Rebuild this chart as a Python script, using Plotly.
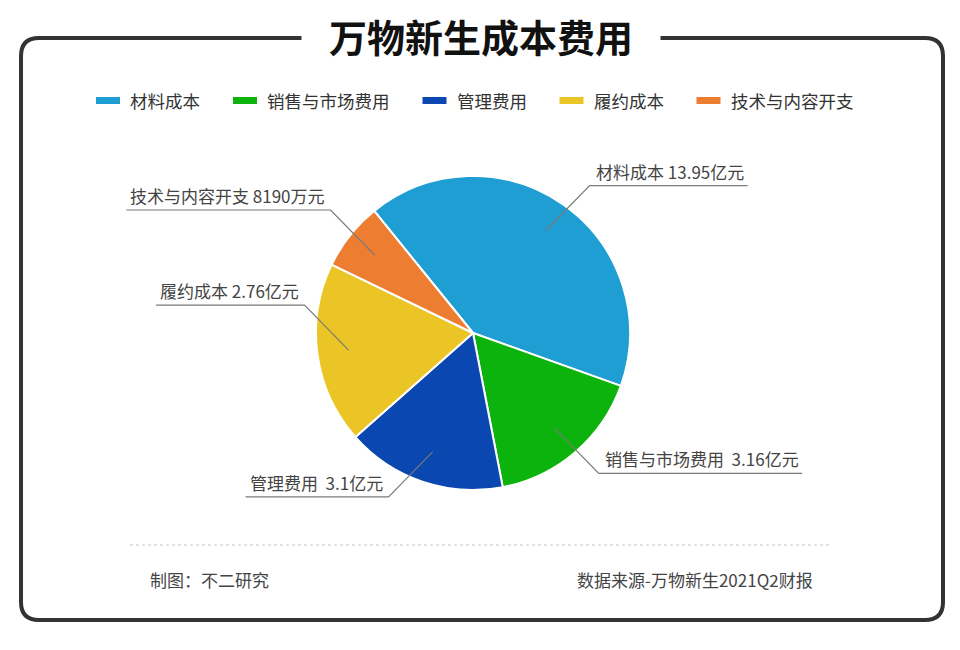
import math
import plotly.graph_objects as go

# ---------------- data ----------------
categories = ["材料成本", "销售与市场费用", "管理费用", "履约成本", "技术与内容开支"]
amount_labels = ["13.95亿元", "3.16亿元", "3.1亿元", "2.76亿元", "8190万元"]
label_gaps = [" ", "  ", "  ", " ", " "]
# share of the circle each slice occupies as drawn in the reference (%)
slice_share = [41.3, 16.5, 16.5, 18.7, 7.0]
colors = ["#1E9ED3", "#0DB30D", "#0B47B1", "#EBC526", "#ED7D31"]

title_text = "万物新生成本费用"
credit_text = "制图：不二研究"
source_text = "数据来源-万物新生2021Q2财报"

# ---------------- layout helpers ----------------
PAGE_OFF = 8            # default body margin of the html page
W, H = 960 - PAGE_OFF, 650 - PAGE_OFF
CX, CY, R = 473, 333, 157
START_ANGLE = -39
FONT = "Noto Sans CJK SC, Noto Sans, sans-serif"


def px(x):
    return (x - PAGE_OFF) / W


def py(y):
    return 1 - (y - PAGE_OFF) / H


def text_width(s, size):
    w = 0.0
    for c in s:
        if ord(c) > 0x2E80:
            w += size
        elif c == " ":
            w += 0.224 * size
        elif c == ".":
            w += 0.27 * size
        else:
            w += 0.552 * size
    return w


fig = go.Figure(
    go.Pie(
        labels=categories,
        values=slice_share,
        sort=False,
        direction="clockwise",
        rotation=START_ANGLE,
        marker=dict(colors=colors, line=dict(color="white", width=2)),
        textinfo="none",
        hoverinfo="label",
        showlegend=False,
        domain=dict(x=[px(CX - R), px(CX + R)], y=[py(CY + R), py(CY - R)]),
    )
)

shapes = []
annotations = []

# ---------- frame ----------
x0, y0, x1, y1, rr = 21, 38, 943, 620, 18
pts = [
    ("M", [(x0 + rr, y0)]), ("L", [(x1 - rr, y0)]), ("Q", [(x1, y0), (x1, y0 + rr)]),
    ("L", [(x1, y1 - rr)]), ("Q", [(x1, y1), (x1 - rr, y1)]), ("L", [(x0 + rr, y1)]),
    ("Q", [(x0, y1), (x0, y1 - rr)]), ("L", [(x0, y0 + rr)]), ("Q", [(x0, y0), (x0 + rr, y0)]),
]
path = " ".join(cmd + " " + " ".join(f"{px(a):.5f},{py(b):.5f}" for a, b in p) for cmd, p in pts) + " Z"
shapes.append(dict(type="path", xref="paper", yref="paper", path=path,
                   line=dict(color="#333333", width=4), fillcolor="rgba(0,0,0,0)", layer="below"))

# title (white box interrupts the frame's top line)
annotations.append(dict(text="<b>" + title_text + "</b>", x=px(481), y=py(35), xref="paper", yref="paper",
                        showarrow=False, font=dict(family=FONT, size=38, color="#111111"),
                        bgcolor="white", width=356, height=50, xanchor="center", yanchor="middle"))

# ---------- custom legend ----------
LEG_SIZE = 17.5
lx = 96
for name, col in zip(categories, colors):
    shapes.append(dict(type="rect", xref="paper", yref="paper", x0=px(lx), x1=px(lx + 24),
                       y0=py(104), y1=py(97), fillcolor=col, line=dict(width=0)))
    annotations.append(dict(text=name, x=px(lx + 32), y=py(100), xref="paper", yref="paper",
                            showarrow=False, xanchor="left", yanchor="middle",
                            font=dict(family=FONT, size=LEG_SIZE, color="#333333")))
    lx = lx + 32 + text_width(name, LEG_SIZE) + 35

# ---------- leader lines and labels ----------
LAB_SIZE = 17
cum = 0.0
total = sum(slice_share)
for name, amt, gap, share in zip(categories, amount_labels, label_gaps, slice_share):
    a0 = START_ANGLE + cum / total * 360
    mid = a0 + share / total * 180
    cum += share
    m = math.radians(mid)
    ax = CX + 0.8 * R * math.sin(m)
    ay = CY - 0.8 * R * math.cos(m)
    side = 1 if math.sin(m) > 0 else -1
    vdir = -1 if math.cos(math.radians(mid + 10)) > 0 else 1
    ex = ax + side * 44
    ey = ay + vdir * 45
    txt = name + gap + amt
    tw = text_width(txt, LAB_SIZE)
    lend = ex + side * (tw + 10)
    shapes.append(dict(type="path", xref="paper", yref="paper",
                       path=f"M {px(ax):.5f},{py(ay):.5f} L {px(ex):.5f},{py(ey):.5f} L {px(lend):.5f},{py(ey):.5f}",
                       line=dict(color="#7a7a7a", width=1.2), layer="above"))
    annotations.append(dict(text=txt, x=px(ex + side * 5), y=py(ey), xref="paper", yref="paper",
                            showarrow=False, xanchor="left" if side > 0 else "right", yanchor="bottom",
                            borderpad=0, yshift=1,
                            font=dict(family=FONT, size=LAB_SIZE, color="#444444")))

# ---------- footer ----------
shapes.append(dict(type="line", xref="paper", yref="paper", x0=px(130), x1=px(830), y0=py(545), y1=py(545),
                   line=dict(color="#c8c8c8", width=1, dash="dot")))
annotations.append(dict(text=credit_text, x=px(148), y=py(579), xref="paper", yref="paper", showarrow=False,
                        xanchor="left", yanchor="middle", font=dict(family=FONT, size=17, color="#444444")))
annotations.append(dict(text=source_text, x=px(815), y=py(579), xref="paper", yref="paper", showarrow=False,
                        xanchor="right", yanchor="middle", font=dict(family=FONT, size=17, color="#444444")))

fig.update_layout(
    width=W, height=H,
    margin=dict(l=0, r=0, t=0, b=0),
    paper_bgcolor="white", plot_bgcolor="white",
    shapes=shapes, annotations=annotations,
    showlegend=False,
    font=dict(family=FONT),
)

fig.write_html("out.html")
